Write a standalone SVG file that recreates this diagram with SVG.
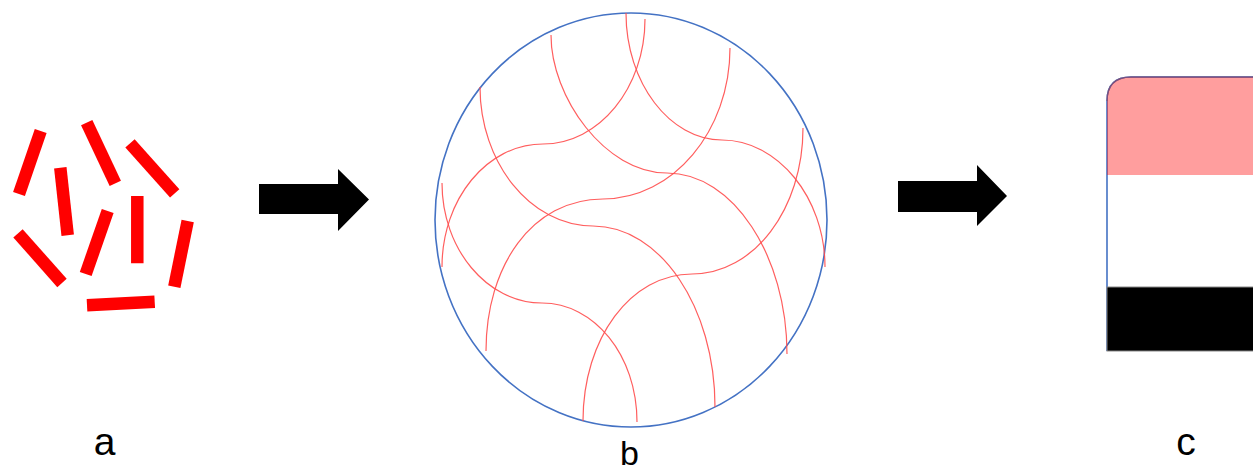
<svg xmlns="http://www.w3.org/2000/svg" width="1253" height="471" viewBox="0 0 1253 471">
<style>
.rod{stroke:#ff0000;stroke-width:12.5;stroke-linecap:butt;fill:none}
.fib{stroke:#ff4d4d;stroke-width:1.2;fill:none;opacity:0.9}
.lbl{font-family:"Liberation Sans",Arial,sans-serif;fill:#000;text-anchor:middle}
.arr{fill:#000}
</style>
<rect width="1253" height="471" fill="#fff"/>
<g id="node-a">
<line class="rod" x1="40.7" y1="131" x2="19" y2="194"/>
<line class="rod" x1="86.7" y1="122.7" x2="115.3" y2="183.3"/>
<line class="rod" x1="130" y1="143.3" x2="174.7" y2="193.3"/>
<line class="rod" x1="60.3" y1="167.7" x2="67.7" y2="235.3"/>
<line class="rod" x1="107.7" y1="211" x2="85.7" y2="274"/>
<line class="rod" x1="137.3" y1="196" x2="137.3" y2="263.3"/>
<line class="rod" x1="187.7" y1="221" x2="174.3" y2="286.7"/>
<line class="rod" x1="18" y1="233.3" x2="62" y2="283"/>
<line class="rod" x1="87" y1="305.3" x2="154.7" y2="301.7"/>
<text class="lbl" x="104.5" y="455" font-size="39">a</text>
</g>
<g id="node-b">
<ellipse cx="631" cy="220" rx="196" ry="207" fill="none" stroke="#4472C4" stroke-width="1.6"/>
<path class="fib" d="M626,13 C626,83 670,140 722,140 C777,140 825,197 825,267"/>
<path class="fib" d="M551,35 C551,97 605,173 667,173 C733,173 787,256 787,354"/>
<path class="fib" d="M480,87 C480,162 530,226 593,226 C660,226 715,307 715,407"/>
<path class="fib" d="M442,183 C442,249 487,303 542,303 C594,303 637,355 637,422"/>
<path class="fib" d="M645,19 C645,88 599,144 543,144 C487,144 442,199 442,267"/>
<path class="fib" d="M730,48 C730,131 673,199 603,199 C532,199 486,266 486,351"/>
<path class="fib" d="M803,128 C803,209 754,274 692,274 C631,274 583,338 583,421"/>
<text class="lbl" x="629.5" y="465" font-size="34">b</text>
</g>
<g id="node-c">
<path d="M1107,351 V101 Q1107,77 1131,77 H1258" fill="none" stroke="#4472C4" stroke-width="1.6"/>
<path d="M1107,175 V101 Q1107,77 1131,77 H1258 V175 Z" fill="#ff0000" fill-opacity="0.38"/>
<path d="M1107,101 Q1107,77 1131,77 H1258" fill="none" stroke="#7a4f78" stroke-width="1.4" opacity="0.8"/>
<rect x="1107" y="287" width="150" height="64" fill="#000" stroke="#888" stroke-width="1"/>
<text class="lbl" x="1186" y="455" font-size="39">c</text>
</g>
<g id="connectors">
<polygon class="arr" points="259,184 338,184 338,169 369,199.5 338,231 338,214 259,214"/>
<polygon class="arr" points="898,181 977,181 977,165 1007,196 977,226 977,212 898,212"/>
</g>
</svg>
